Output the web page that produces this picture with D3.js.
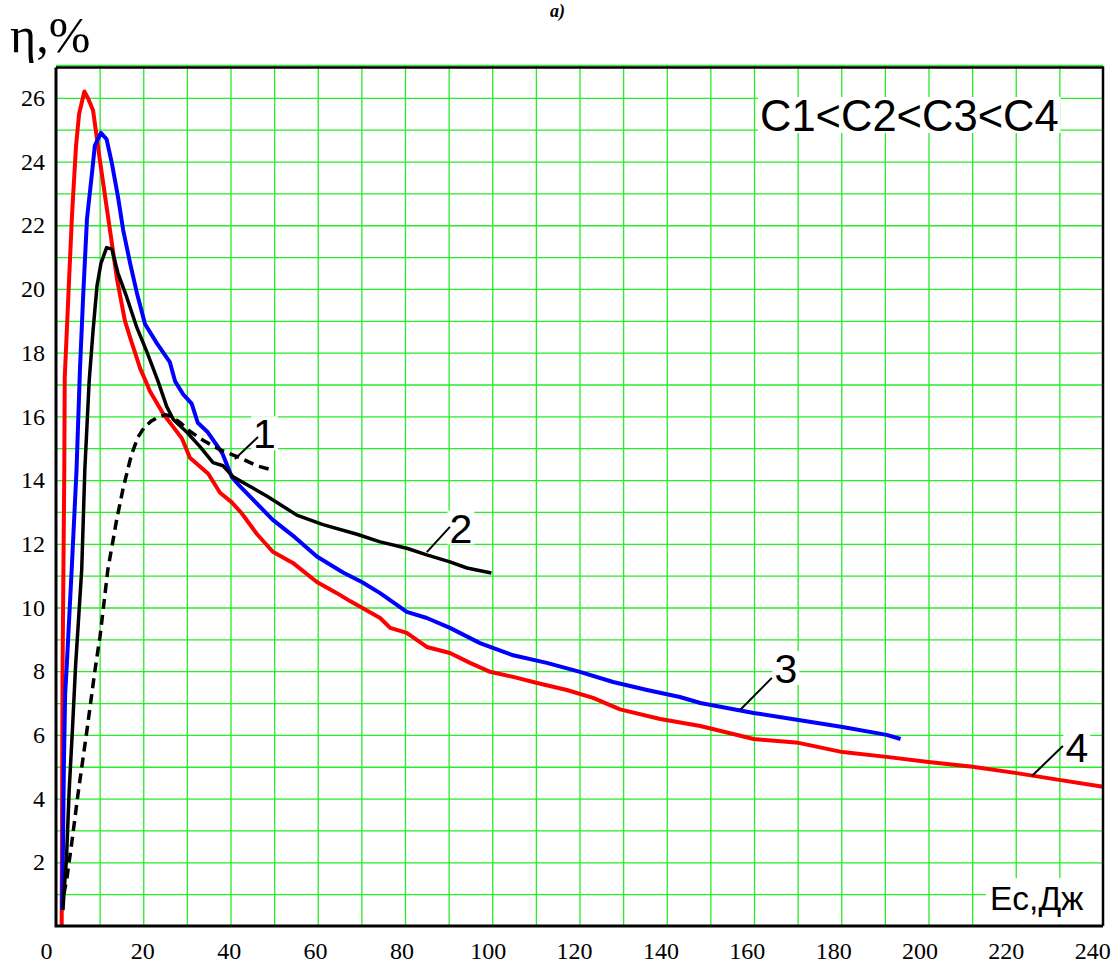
<!DOCTYPE html>
<html>
<head>
<meta charset="utf-8">
<script src="https://cdn.jsdelivr.net/npm/d3@7"></script>
<style>
  body { margin: 0; background: #fff; }
  svg { display: block; }
  .serif { font-family: "Liberation Serif", "DejaVu Serif", "Times New Roman", serif; }
  .sans { font-family: "Liberation Sans", Arial, sans-serif; }
</style>
</head>
<body>
<div class="chart"></div>
<script>
// curve 1 (dashed black)
let c1X = [1.8, 2.5, 3.6, 5.1, 7.2, 8.9, 10.1, 11.9, 13.9, 15.4, 17.3, 18.8, 20.2, 21.8, 23.1, 25.0, 26.5, 28.5, 30.5, 33.7, 37.6, 42.2, 46.0, 50.0];
let c1Y = [1.0, 1.5, 2.6, 4.2, 6.25, 8.0, 9.1, 11.2, 12.75, 13.75, 14.8, 15.35, 15.65, 15.85, 15.95, 16.05, 16.0, 15.8, 15.55, 15.25, 14.95, 14.7, 14.45, 14.3];

// curve 2 (solid black)
let c2X = [1.6, 1.8, 2.4, 3.0, 3.8, 4.5, 5.9, 6.6, 7.6, 8.5, 9.4, 10.3, 11.6, 12.8, 14.2, 16.2, 18.5, 20.9, 23.4, 25.4, 26.9, 30.0, 33.0, 36.0, 38.3, 40.6, 44.5, 48.3, 55.2, 61.2, 69.0, 74.3, 80.4, 85.0, 90.3, 94.2, 99.8];
let c2Y = [0.5, 1.0, 2.1, 4.2, 6.25, 8.2, 11.2, 14.3, 17.1, 18.7, 20.1, 20.8, 21.3, 21.25, 20.5, 19.75, 18.8, 18.0, 17.1, 16.3, 15.9, 15.5, 15.05, 14.55, 14.45, 14.1, 13.8, 13.5, 12.9, 12.6, 12.3, 12.06, 11.86, 11.65, 11.43, 11.24, 11.08];

// curve 3 (blue)
let c3X = [1.4, 1.6, 1.8, 2.1, 2.4, 3.6, 4.7, 5.5, 6.2, 7.1, 8.3, 8.9, 10.3, 11.6, 12.8, 14.2, 15.4, 17.0, 18.5, 20.4, 23.1, 26.1, 27.3, 29.1, 31.1, 32.5, 34.8, 38.1, 40.3, 42.2, 49.7, 54.8, 59.8, 65.8, 70.1, 74.3, 80.4, 85.0, 90.3, 97.2, 99.5, 104.8, 112.5, 120.1, 127.7, 135.5, 143.0, 147.7, 159.9, 170.2, 180.3, 190.4, 193.6];
let c3Y = [0.5, 2.5, 5.0, 7.3, 8.0, 11.2, 14.3, 17.5, 19.7, 22.2, 23.7, 24.5, 24.9, 24.7, 23.95, 22.9, 21.85, 20.8, 19.9, 18.9, 18.3, 17.7, 17.1, 16.7, 16.4, 15.8, 15.5, 14.85, 14.1, 13.8, 12.75, 12.2, 11.6, 11.1, 10.8, 10.45, 9.86, 9.67, 9.36, 8.88, 8.76, 8.5, 8.26, 7.98, 7.66, 7.41, 7.19, 7.0, 6.69, 6.47, 6.25, 6.0, 5.87];

// curve 4 (red)
let c4X = [1.3, 1.4, 1.5, 1.7, 1.9, 2.0, 3.0, 3.7, 4.6, 5.3, 6.5, 7.3, 8.5, 10.1, 12.0, 14.0, 15.8, 17.4, 18.6, 19.3, 20.9, 21.5, 24.5, 28.9, 30.7, 34.9, 37.6, 40.3, 42.6, 46.1, 49.7, 54.3, 59.8, 64.4, 67.4, 74.3, 76.6, 80.4, 85.0, 90.3, 94.9, 99.5, 104.8, 110.3, 117.1, 123.1, 129.3, 138.5, 147.7, 159.9, 170.2, 180.3, 190.4, 200.0, 210.1, 220.2, 230.3, 240.0];
let c4Y = [0.0, 4.0, 8.0, 11.2, 14.3, 17.2, 20.3, 22.4, 24.5, 25.5, 26.2, 26.0, 25.6, 24.0, 22.2, 20.3, 19.0, 18.3, 17.8, 17.5, 17.0, 16.8, 16.1, 15.3, 14.7, 14.2, 13.6, 13.3, 12.95, 12.3, 11.75, 11.4, 10.8, 10.45, 10.2, 9.67, 9.36, 9.2, 8.76, 8.57, 8.26, 7.98, 7.82, 7.63, 7.41, 7.16, 6.8, 6.5, 6.28, 5.87, 5.75, 5.46, 5.31, 5.15, 5.0, 4.8, 4.58, 4.37];

let xTicks = [0, 20, 40, 60, 80, 100, 120, 140, 160, 180, 200, 220, 240];
let yTicks = [2, 4, 6, 8, 10, 12, 14, 16, 18, 20, 22, 24, 26];

// curve labels: text position and leader line (data units)
let curveLabels = ["1", "2", "3", "4"];
let labelAt = [[47.8, 15.0], [92.8, 12.04], [167.3, 7.63], [234.0, 5.15]];
let leaderFrom = [[41.0, 14.66], [85.0, 11.74], [156.8, 6.78], [223.7, 4.71]];
let leaderTo = [[46.3, 15.35], [90.3, 12.53], [164.1, 7.79], [230.8, 5.65]];

let width = 1120, height = 964;
let margin = {top: 66, right: 17, bottom: 38, left: 56};

let svg = d3.select(".chart").append("svg")
    .attr("width", width)
    .attr("height", height);

let x = d3.scaleLinear().domain([0, 240]).range([margin.left, width - margin.right]);
let y = d3.scaleLinear().domain([0, 27]).range([height - margin.bottom, margin.top]);

let gGrid = svg.append("g");
let gBox = svg.append("g");
let gCurve = svg.append("g");
let gText = svg.append("g");

let green = "#27ec27";

// grid
gGrid.append("g")
    .attr("transform", "translate(0," + y(0) + ")")
    .call(d3.axisBottom(x).tickValues(d3.range(10, 240, 10)).tickSize(-(y(0) - y(27))).tickFormat(""))
    .call(g => g.select(".domain").remove())
    .selectAll("line").attr("stroke", green).attr("stroke-width", 1.3);

gGrid.append("g")
    .attr("transform", "translate(" + x(0) + ",0)")
    .call(d3.axisLeft(y).tickValues(d3.range(1, 28, 1)).tickSize(-(x(240) - x(0))).tickFormat(""))
    .call(g => g.select(".domain").remove())
    .selectAll("line").attr("stroke", green).attr("stroke-width", 1.3)
    .attr("transform", d => d == 27 ? "translate(0,-1)" : null);

// frame
svg.append("path")
    .attr("d", "M" + x(0) + "," + (y(27) + 1.5) + "H" + x(240) + "V" + y(0))
    .attr("fill", "none").attr("stroke", "#000").attr("stroke-width", 2.5);
svg.append("path")
    .attr("d", "M" + x(0) + "," + (y(27) + 1.5) + "V" + y(0) + "H" + x(240))
    .attr("fill", "none").attr("stroke", "#000").attr("stroke-width", 3);

// axis labels
let yAxis = svg.append("g")
    .attr("transform", "translate(" + x(0) + ",0)")
    .call(d3.axisLeft(y).tickValues(yTicks).tickSize(0).tickPadding(11))
    .attr("font-family", null).attr("font-size", null);
yAxis.select(".domain").remove();
yAxis.selectAll("text")
    .attr("class", "serif")
    .style("font-size", "24px").attr("fill", "#000");

let xAxis = svg.append("g")
    .attr("transform", "translate(0," + y(0) + ")")
    .call(d3.axisBottom(x).tickValues(xTicks).tickSize(0).tickPadding(0))
    .attr("font-family", null).attr("font-size", null);
xAxis.select(".domain").remove();
xAxis.selectAll("text")
    .attr("class", "serif")
    .style("font-size", "24px").attr("fill", "#000")
    .attr("dy", null).attr("y", 33)
    .attr("x", d => d == 0 ? -10 : -d * 0.045);

// curves
function pts(xs, ys) { return xs.map((v, i) => [v, ys[i]]); }
let line = d3.line().x(d => x(d[0])).y(d => y(d[1])).curve(d3.curveLinear);

let curves = [
  {p: pts(c1X, c1Y), color: "#000", w: 3.5, dash: "10,6"},
  {p: pts(c2X, c2Y), color: "#000", w: 3.5, dash: null},
  {p: pts(c3X, c3Y), color: "#0000ff", w: 4, dash: null},
  {p: pts(c4X, c4Y), color: "#ff0000", w: 4, dash: null}
];

gCurve.selectAll("path.curve")
  .data([curves[3], curves[2], curves[1], curves[0]])
  .enter().append("path")
    .attr("class", "curve")
    .attr("d", d => line(d.p))
    .attr("fill", "none")
    .attr("stroke", d => d.color)
    .attr("stroke-width", d => d.w)
    .attr("stroke-dasharray", d => d.dash)
    .attr("stroke-linejoin", "round");

// white box behind a text
function boxBehind(t, padX, top, bottom, right) {
  let b = t.node().getBBox();
  gBox.append("rect")
    .attr("x", b.x - padX)
    .attr("y", top)
    .attr("width", right != null ? right - (b.x - padX) : b.width + 2 * padX)
    .attr("height", bottom - top)
    .attr("fill", "#fff");
}

// curve labels
curveLabels.forEach(function(lbl, i) {
  let t = gText.append("text")
    .attr("class", "sans")
    .attr("x", x(labelAt[i][0]))
    .attr("y", y(labelAt[i][1]))
    .attr("text-anchor", "middle")
    .style("font-size", "41px")
    .attr("fill", "#000")
    .text(lbl);
  let by = y(labelAt[i][1]);
  boxBehind(t, 2, by - 32, by + 2);
  gText.append("line")
    .attr("x1", x(leaderFrom[i][0])).attr("y1", y(leaderFrom[i][1]))
    .attr("x2", x(leaderTo[i][0])).attr("y2", y(leaderTo[i][1]))
    .attr("stroke", "#000").attr("stroke-width", 2);
});

// legend text
let legend = gText.append("text")
    .attr("class", "sans")
    .attr("x", 760).attr("y", 131)
    .style("font-size", "43.5px").attr("fill", "#000")
    .text("C1<C2<C3<C4");
boxBehind(legend, 2, 97, 133);

// x axis title
let xTitle = gText.append("text")
    .attr("class", "sans")
    .attr("x", 990).attr("y", 910)
    .style("font-size", "33.5px").attr("fill", "#000")
    .text("Ec,Дж");
boxBehind(xTitle, 4, 878, y(0) - 1.5, x(240) - 1);

// y axis title
svg.append("text")
    .attr("class", "serif")
    .attr("x", 10).attr("y", 52)
    .style("font-size", "50px").attr("fill", "#000")
    .text("η,%");

// panel letter (at the top edge)
svg.append("text")
    .attr("class", "serif")
    .attr("x", 550).attr("y", 17)
    .style("font-size", "18px").style("font-style", "italic").style("font-weight", "bold")
    .attr("fill", "#000")
    .text("a)");
</script>
</body>
</html>
